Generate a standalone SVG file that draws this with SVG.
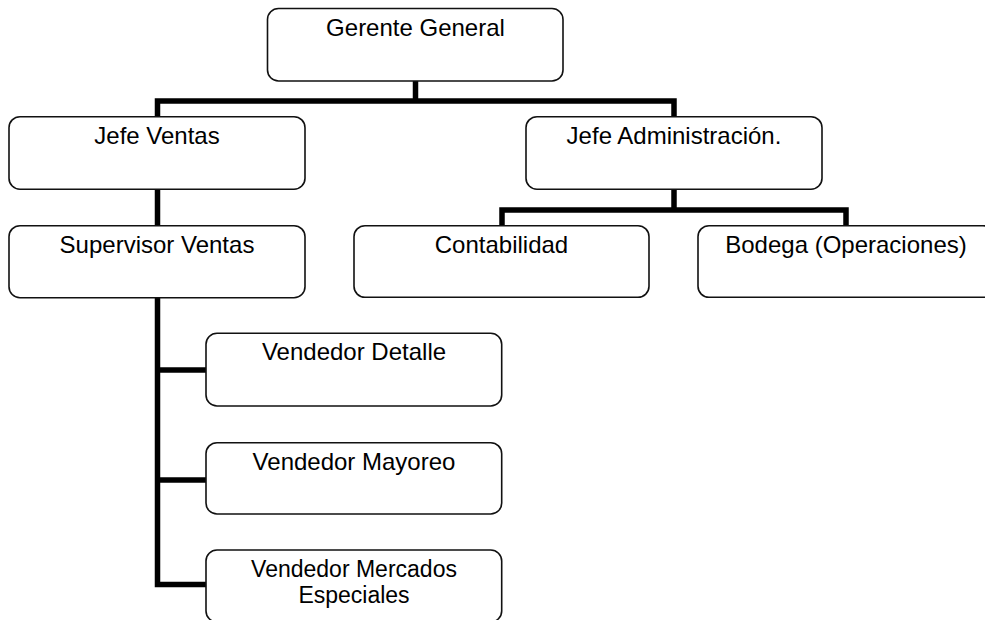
<svg xmlns="http://www.w3.org/2000/svg" width="985" height="620" viewBox="0 0 985 620">
<style>
.box{fill:#fff;stroke:#111;stroke-width:1.6}
.lbl{font-family:"Liberation Sans",Arial,sans-serif;font-size:24px;fill:#000;text-anchor:middle}
.sm{font-size:23px}
.con{fill:none;stroke:#000;stroke-width:5.5;stroke-linejoin:miter;stroke-linecap:butt}
</style>
<rect width="985" height="620" fill="#fff"/>
<g id="connectors">
<line class="con" x1="415.5" y1="81" x2="415.5" y2="101"/>
<polyline class="con" points="157.5,117 157.5,101 674,101 674,117"/>
<line class="con" x1="157.5" y1="189" x2="157.5" y2="226"/>
<line class="con" x1="674" y1="189" x2="674" y2="210"/>
<polyline class="con" points="502,226 502,210 846,210 846,226"/>
<polyline class="con" points="157.5,298 157.5,584.5 206,584.5"/>
<line class="con" x1="157.5" y1="370" x2="206" y2="370"/>
<line class="con" x1="157.5" y1="480" x2="206" y2="480"/>
</g>
<g id="gerente-general">
<rect class="box" x="267.5" y="8.5" width="295.5" height="72.5" rx="11"/>
<text class="lbl" x="415.5" y="35.5">Gerente General</text>
</g>
<g id="jefe-ventas">
<rect class="box" x="9" y="116.7" width="296" height="72.5" rx="11"/>
<text class="lbl" x="157" y="144">Jefe Ventas</text>
</g>
<g id="jefe-administracion">
<rect class="box" x="526" y="116.7" width="296" height="72.5" rx="11"/>
<text class="lbl" x="674" y="144">Jefe Administración.</text>
</g>
<g id="supervisor-ventas">
<rect class="box" x="9" y="225.7" width="296" height="72" rx="11"/>
<text class="lbl" x="157" y="253">Supervisor Ventas</text>
</g>
<g id="contabilidad">
<rect class="box" x="354" y="225.7" width="295" height="71.6" rx="11"/>
<text class="lbl" x="501.5" y="253">Contabilidad</text>
</g>
<g id="bodega">
<rect class="box" x="698" y="225.7" width="296" height="71.6" rx="11"/>
<text class="lbl" x="846" y="253">Bodega (Operaciones)</text>
</g>
<g id="vendedor-detalle">
<rect class="box" x="206" y="333.3" width="295.7" height="72.7" rx="11"/>
<text class="lbl" x="354" y="360">Vendedor Detalle</text>
</g>
<g id="vendedor-mayoreo">
<rect class="box" x="206" y="442.7" width="295.7" height="71.3" rx="11"/>
<text class="lbl" x="354" y="469.5">Vendedor Mayoreo</text>
</g>
<g id="vendedor-mercados-especiales">
<rect class="box" x="206" y="550" width="295.7" height="72" rx="11"/>
<text class="lbl sm" x="354" y="577">Vendedor Mercados</text>
<text class="lbl sm" x="354" y="603">Especiales</text>
</g>
</svg>
